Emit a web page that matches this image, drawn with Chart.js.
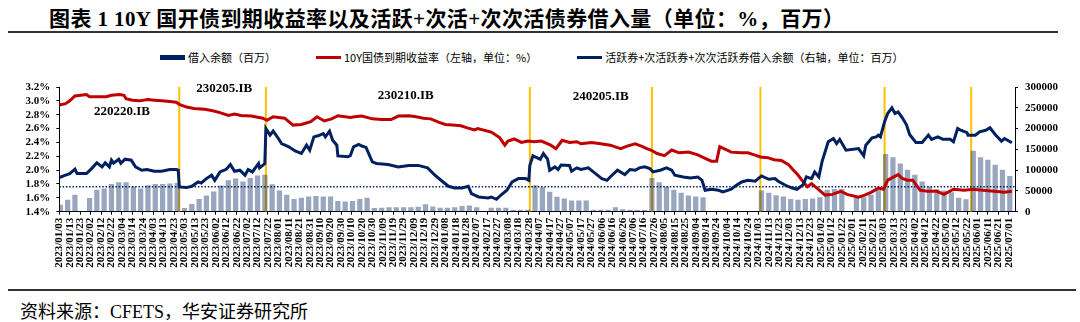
<!DOCTYPE html>
<html lang="zh-CN">
<head>
<meta charset="utf-8">
<title>10Y 国开债到期收益率以及活跃+次活+次次活债券借入量</title>
<script src="https://cdn.jsdelivr.net/npm/chart.js@4.4.1/dist/chart.umd.min.js"></script>
<style>
  html, body { margin: 0; padding: 0; background: #fff; }
  body { width: 1080px; height: 322px; position: relative; overflow: hidden; }
  .title { position: absolute; left: 49px; top: 2px; font: bold 21px "Liberation Serif", "Noto Sans CJK SC", serif; letter-spacing: 0.4px; color: #000; white-space: nowrap; }
  .rule { position: absolute; height: 2px; background: #333; }
  #legend { position: absolute; left: 160px; top: 49px; display: flex; align-items: center; font: 11px "Noto Sans CJK SC", sans-serif; color: #000; white-space: nowrap; }
  #legend .item { display: flex; align-items: center; margin-right: 40px; }
  #legend .swatch { width: 25px; margin-right: 3px; }
  #chart { position: absolute; left: 0; top: 70px; }
  .source { position: absolute; left: 20px; top: 297px; font: 18px "Liberation Serif", "Noto Sans CJK SC", serif; color: #000; white-space: nowrap; }
</style>
</head>
<body>
<div class="title">图表 1 10Y 国开债到期收益率以及活跃+次活+次次活债券借入量（单位：%，百万）</div>
<div class="rule" style="left:8px;top:31px;width:1050px;"></div>
<div id="legend"></div>
<canvas id="chart" width="1080" height="216"></canvas>
<div class="rule" style="left:8px;top:289px;width:1068px;"></div>
<div class="source">资料来源：CFETS，华安证券研究所</div>

<script>
// 10Y yield (%, left axis)
const yieldDates = [
  '2023-01-03','2023-01-09','2023-01-13','2023-01-18','2023-01-29','2023-02-01','2023-02-09','2023-02-17',
  '2023-02-22','2023-03-02','2023-03-06','2023-03-08','2023-03-14','2023-03-21','2023-03-29','2023-04-04',
  '2023-04-11','2023-04-19','2023-04-25','2023-04-28','2023-05-05','2023-05-12','2023-05-22','2023-05-29',
  '2023-06-06','2023-06-14','2023-06-20','2023-06-26','2023-07-06','2023-07-17','2023-07-21','2023-07-27',
  '2023-08-07','2023-08-15','2023-08-23','2023-09-01','2023-09-07','2023-09-14','2023-09-21','2023-09-27',
  '2023-10-09','2023-10-13','2023-10-20','2023-10-30','2023-11-08','2023-11-17','2023-11-24','2023-12-04',
  '2023-12-11','2023-12-18','2023-12-25','2024-01-02','2024-01-08','2024-01-15','2024-01-23','2024-01-29',
  '2024-02-05','2024-02-08','2024-02-21','2024-02-29','2024-03-05','2024-03-08','2024-03-14','2024-03-21',
  '2024-03-27','2024-04-02','2024-04-09','2024-04-18','2024-04-23','2024-04-29','2024-05-06','2024-05-13',
  '2024-05-17','2024-05-27','2024-06-05','2024-06-14','2024-06-24','2024-07-01','2024-07-08','2024-07-15',
  '2024-07-19','2024-07-23','2024-07-29','2024-08-05','2024-08-12','2024-08-19','2024-08-28','2024-09-06',
  '2024-09-13','2024-09-19','2024-09-24','2024-09-27','2024-10-08','2024-10-17','2024-10-24','2024-10-30',
  '2024-11-05','2024-11-12','2024-11-18','2024-11-25','2024-12-02','2024-12-06','2024-12-11','2024-12-16',
  '2024-12-20','2024-12-24','2024-12-30','2025-01-06','2025-01-13','2025-01-21','2025-01-27','2025-02-07',
  '2025-02-13','2025-02-19','2025-02-26','2025-03-03','2025-03-07','2025-03-17','2025-03-21','2025-03-26',
  '2025-03-31','2025-04-07','2025-04-14','2025-04-23','2025-04-30','2025-05-09','2025-05-19','2025-05-28',
  '2025-06-06','2025-06-17','2025-06-27','2025-07-04'
];
const yield10y = [
  2.94, 2.96, 3.00, 3.07, 3.09, 3.06, 3.06, 3.06,
  3.08, 3.09, 3.08, 3.03, 3.01, 3.00, 3.02, 3.01,
  3.00, 2.99, 2.98, 2.95, 2.91, 2.89, 2.88, 2.86,
  2.83, 2.79, 2.81, 2.79, 2.78, 2.75, 2.72, 2.77,
  2.75, 2.65, 2.66, 2.70, 2.77, 2.71, 2.74, 2.785,
  2.76, 2.77, 2.78, 2.74, 2.73, 2.73, 2.78, 2.785,
  2.77, 2.75, 2.74, 2.69, 2.66, 2.65, 2.64, 2.61,
  2.58, 2.60, 2.55, 2.47, 2.36, 2.42, 2.45, 2.40,
  2.42, 2.41, 2.42, 2.36, 2.31, 2.43, 2.40, 2.41,
  2.38, 2.40, 2.38, 2.36, 2.31, 2.35, 2.38, 2.34,
  2.31, 2.29, 2.24, 2.21, 2.29, 2.25, 2.26, 2.22,
  2.17, 2.13, 2.13, 2.34, 2.26, 2.25, 2.25, 2.22,
  2.19, 2.18, 2.15, 2.14, 2.08, 2.01, 1.93, 1.83,
  1.76, 1.805, 1.73, 1.64, 1.65, 1.695, 1.65, 1.61,
  1.64, 1.68, 1.74, 1.725, 1.855, 1.935, 1.88, 1.855,
  1.855, 1.71, 1.695, 1.695, 1.65, 1.725, 1.71, 1.725,
  1.71, 1.695, 1.68, 1.695
];

// 活跃券+次活跃券+次次活跃券借入余额 (百万, right axis)
const totalDates = [
  '2023-01-03','2023-01-09','2023-01-13','2023-01-18','2023-01-20','2023-01-29','2023-02-03','2023-02-08',
  '2023-02-13','2023-02-16','2023-02-20','2023-02-22','2023-02-24','2023-03-01','2023-03-03','2023-03-07',
  '2023-03-13','2023-03-17','2023-03-23','2023-03-28','2023-04-04','2023-04-11','2023-04-19','2023-04-25',
  '2023-04-27','2023-04-28','2023-05-05','2023-05-10','2023-05-16','2023-05-19','2023-05-24','2023-05-29',
  '2023-06-01','2023-06-06','2023-06-12','2023-06-16','2023-06-20','2023-06-25','2023-06-30','2023-07-03',
  '2023-07-07','2023-07-13','2023-07-14','2023-07-19','2023-07-20','2023-07-24','2023-07-27','2023-08-01',
  '2023-08-04','2023-08-11','2023-08-17','2023-08-23','2023-08-28','2023-08-31','2023-09-04','2023-09-08',
  '2023-09-13','2023-09-15','2023-09-19','2023-09-22','2023-09-26','2023-09-27','2023-10-07','2023-10-09',
  '2023-10-12','2023-10-17','2023-10-20','2023-10-24','2023-10-30','2023-11-03','2023-11-14','2023-11-24',
  '2023-12-04','2023-12-13','2023-12-22','2023-12-29','2024-01-05','2024-01-11','2024-01-17','2024-01-24',
  '2024-01-30','2024-02-02','2024-02-09','2024-02-18','2024-02-21','2024-02-26','2024-03-01','2024-03-07',
  '2024-03-12','2024-03-18','2024-03-25','2024-03-28','2024-03-29','2024-04-01','2024-04-03','2024-04-08',
  '2024-04-11','2024-04-15','2024-04-17','2024-04-22','2024-04-25','2024-04-28','2024-05-06','2024-05-08',
  '2024-05-13','2024-05-17','2024-05-24','2024-05-31','2024-06-06','2024-06-11','2024-06-14','2024-06-21',
  '2024-06-28','2024-07-03','2024-07-08','2024-07-12','2024-07-17','2024-07-22','2024-07-25','2024-08-01',
  '2024-08-07','2024-08-12','2024-08-15','2024-08-23','2024-08-30','2024-09-06','2024-09-10','2024-09-13',
  '2024-09-19','2024-09-26','2024-09-30','2024-10-08','2024-10-12','2024-10-18','2024-10-24','2024-10-31',
  '2024-11-06','2024-11-13','2024-11-19','2024-11-22','2024-11-29','2024-12-05','2024-12-10','2024-12-16',
  '2024-12-19','2024-12-24','2024-12-27','2024-12-31','2025-01-03','2025-01-09','2025-01-14','2025-01-17',
  '2025-01-20','2025-01-26','2025-02-07','2025-02-12','2025-02-14','2025-02-20','2025-02-24','2025-02-26',
  '2025-02-28','2025-03-04','2025-03-07','2025-03-11','2025-03-14','2025-03-17','2025-03-21','2025-03-25',
  '2025-03-28','2025-04-03','2025-04-09','2025-04-15','2025-04-18','2025-04-24','2025-04-29','2025-05-06',
  '2025-05-09','2025-05-13','2025-05-16','2025-05-22','2025-05-23','2025-05-30','2025-06-03','2025-06-09',
  '2025-06-13','2025-06-18','2025-06-24','2025-06-27','2025-07-04'
];
const borrowTotal = [
  82000, 87800, 91600, 102200, 91600, 91600, 103700, 117500,
  107800, 117500, 107800, 124000, 116700, 126300, 116700, 126300,
  124000, 107800, 99800, 101500, 97400, 97400, 101500, 101500,
  99800, 59600, 58000, 61200, 71600, 69000, 79600, 87800,
  75500, 95700, 102000, 113300, 97400, 99800, 87800, 101500,
  95700, 115800, 105500, 115800, 200200, 184200, 193900, 176100,
  164000, 156000, 146000, 140000, 160000, 148000, 180000, 182700,
  188000, 180000, 193800, 172000, 160000, 134300, 132000, 135000,
  156000, 161700, 158000, 154800, 119900, 116000, 113300, 107800,
  111400, 111400, 105500, 87800, 73300, 61200, 57200, 57200,
  61200, 43400, 35400, 33000, 35400, 29900, 39500, 51600,
  71600, 79600, 79600, 75500, 111900, 134300, 132000, 126300,
  140000, 126300, 99800, 107800, 101500, 112500, 111400, 97400,
  105500, 101500, 105500, 91600, 79600, 75500, 83600, 99800,
  89400, 101500, 99800, 105500, 107800, 103700, 95700, 99800,
  105500, 99800, 87800, 83600, 81300, 83600, 75500, 51600,
  54000, 51600, 47700, 54000, 62000, 71600, 75500, 73300,
  86100, 78000, 79600, 73300, 63600, 57200, 54000, 65200,
  83700, 79600, 95700, 83700, 119900, 168100, 176100, 164000,
  174000, 148000, 152000, 134300, 160000, 177700, 180000, 184200,
  180000, 216300, 236300, 250000, 236300, 240000, 226000, 209000,
  185700, 166400, 166400, 184200, 174000, 180000, 174000, 174000,
  168100, 200200, 196000, 190000, 184200, 184200, 192000, 196000,
  201800, 185700, 169800, 176100, 165700
];

// 借入余额 (百万, right axis), one value per trading week (week mid-point)
const barWeeks = [
  '2023-01-04','2023-01-11','2023-01-18','2023-01-25','2023-02-01','2023-02-08','2023-02-15','2023-02-22',
  '2023-03-01','2023-03-08','2023-03-15','2023-03-22','2023-03-29','2023-04-05','2023-04-12','2023-04-19',
  '2023-04-26','2023-05-03','2023-05-10','2023-05-17','2023-05-24','2023-05-31','2023-06-07','2023-06-14',
  '2023-06-21','2023-06-28','2023-07-05','2023-07-12','2023-07-19','2023-07-26','2023-08-02','2023-08-09',
  '2023-08-16','2023-08-23','2023-08-30','2023-09-06','2023-09-13','2023-09-20','2023-09-27','2023-10-04',
  '2023-10-11','2023-10-18','2023-10-25','2023-11-01','2023-11-08','2023-11-15','2023-11-22','2023-11-29',
  '2023-12-06','2023-12-13','2023-12-20','2023-12-27','2024-01-03','2024-01-10','2024-01-17','2024-01-24',
  '2024-01-31','2024-02-07','2024-02-14','2024-02-21','2024-02-28','2024-03-06','2024-03-13','2024-03-20',
  '2024-03-27','2024-04-03','2024-04-10','2024-04-17','2024-04-24','2024-05-01','2024-05-08','2024-05-15',
  '2024-05-22','2024-05-29','2024-06-05','2024-06-12','2024-06-19','2024-06-26','2024-07-03','2024-07-10',
  '2024-07-17','2024-07-24','2024-07-31','2024-08-07','2024-08-14','2024-08-21','2024-08-28','2024-09-04',
  '2024-09-11','2024-09-18','2024-09-25','2024-10-02','2024-10-09','2024-10-16','2024-10-23','2024-10-30',
  '2024-11-06','2024-11-13','2024-11-20','2024-11-27','2024-12-04','2024-12-11','2024-12-18','2024-12-25',
  '2025-01-01','2025-01-08','2025-01-15','2025-01-22','2025-01-29','2025-02-05','2025-02-12','2025-02-19',
  '2025-02-26','2025-03-05','2025-03-12','2025-03-19','2025-03-26','2025-04-02','2025-04-09','2025-04-16',
  '2025-04-23','2025-04-30','2025-05-07','2025-05-14','2025-05-21','2025-05-28','2025-06-04','2025-06-11',
  '2025-06-18','2025-06-25','2025-07-02'
];
const borrowBalance = [
  16000, 28000, 40000, null, 32000, 52000, 55000, 66000,
  70000, 70000, 60000, 55000, 63000, 66000, 66000, 67000,
  68000, 8000, 18000, 30000, 38000, 48000, 62000, 75000,
  79000, 72000, 80000, 86000, 88000, 65000, 50000, 40000,
  30000, 33000, 36000, 37000, 36000, 36000, 25000, 24000,
  25000, 30000, 33000, 8000, 9000, 10000, 10000, 10000,
  10000, 11000, 17000, 12000, 9000, 9000, 10000, 13000,
  14000, 10000, null, 9000, 9000, 9000, 4000, 4000,
  4000, 63000, 58000, 47000, 35000, 31000, 26000, 26000,
  26000, 4000, 4000, 4000, 10000, 5000, 4000, 3000,
  3000, 80000, 70000, 60000, 52000, 45000, 38000, 36000,
  34000, null, null, null, null, null, null, null,
  50000, 45000, 39000, 36000, 30000, 28000, 30000, 31000,
  34000, 52000, 54000, 54000, null, 33000, 34000, 40000,
  52000, 138000, 130000, 115000, 100000, 88000, 72000, 60000,
  53000, 50000, 46000, 33000, 29000, 146000, 130000, 124000,
  112000, 100000, 85000
];

// reference level of the borrowing balance (百万)
const borrowRefLevel = 60000;

// active-bond switch dates and the bond codes
const rollDates = ['2023-04-28','2023-07-20','2024-03-29','2024-07-24','2024-11-05','2025-03-04','2025-05-26'];
const bondNames = ['220220.IB','230205.IB','230210.IB','240205.IB'];

// axis tick labels
const axisStart = '2023-01-03';
const axisEnd = '2025-07-07';
const yieldTicks = { min: 1.4, max: 3.2, step: 0.2 };
const volumeTicks = { min: 0, max: 300000, step: 50000 };

const NAVY = '#002060';
const RED = '#C00000';
const GOLD = '#FFC000';

const base = Date.parse(axisStart + 'T00:00:00Z');
const toDay = s => Math.round((Date.parse(s + 'T00:00:00Z') - base) / 864e5);
const fmtDay = v => {
  const d = new Date(base + v * 864e5);
  const p = n => String(n).padStart(2, '0');
  return d.getUTCFullYear() + '/' + p(d.getUTCMonth() + 1) + '/' + p(d.getUTCDate());
};
const series = (dates, vals) => dates.map((d, i) => ({ x: toDay(d), y: vals[i] }));
const xMax = toDay(axisEnd);

const rollLines = rollDates.flatMap(d => {
  const x = toDay(d);
  return [{ x, y: yieldTicks.min }, { x, y: yieldTicks.max }, { x, y: null }];
});

// bond code captions placed in data space (day, yield %)
const bondLabelSpots = [
  { date: '2023-03-04', level: 2.845 },
  { date: '2023-06-10', level: 3.175 },
  { date: '2023-12-01', level: 3.08 },
  { date: '2024-06-05', level: 3.06 }
];

const bondLabels = {
  id: 'bondLabels',
  afterDatasetsDraw(chart) {
    const { ctx, scales } = chart;
    ctx.save();
    ctx.font = 'bold 13px "Liberation Serif", serif';
    ctx.fillStyle = '#000';
    ctx.textAlign = 'center';
    ctx.textBaseline = 'middle';
    bondNames.forEach((name, i) => {
      const spot = bondLabelSpots[i];
      ctx.fillText(name, scales.x.getPixelForValue(toDay(spot.date)), scales.y.getPixelForValue(spot.level));
    });
    ctx.restore();
  }
};

Chart.defaults.font.family = '"Liberation Serif", "Times New Roman", serif';
Chart.defaults.color = '#000';

const tickFont = { size: 11, weight: 'bold' };
const axisGrid = { display: true, drawOnChartArea: false, drawTicks: true, tickLength: 3, color: '#000', lineWidth: 1 };

// evenly spaced tick values for a value axis
const stepTicks = (lo, hi, step) => {
  const t = [];
  const n = Math.round((hi - lo) / step);
  for (let i = 0; i <= n; i++) t.push({ value: +(lo + i * step).toFixed(6) });
  return t;
};

const chart = new Chart(document.getElementById('chart'), {
  type: 'bar',
  data: {
    datasets: [
      {
        type: 'line', label: '活跃券+次活跃券+次次活跃券借入余额（右轴，单位：百万）', legend: 'line',
        data: series(totalDates, borrowTotal), yAxisID: 'y1',
        borderColor: NAVY, backgroundColor: NAVY, borderWidth: 3, pointRadius: 0, tension: 0, order: 0
      },
      {
        type: 'line', label: '10Y国债到期收益率（左轴，单位：%）', legend: 'line',
        data: series(yieldDates, yield10y), yAxisID: 'y',
        borderColor: RED, backgroundColor: RED, borderWidth: 3, pointRadius: 0, tension: 0, order: 1
      },
      {
        type: 'line', label: '借入余额参考线',
        data: [{ x: 0, y: borrowRefLevel }, { x: xMax, y: borrowRefLevel }], yAxisID: 'y1',
        borderColor: NAVY, borderWidth: 1.5, borderDash: [1.5, 1.8], pointRadius: 0, order: 2
      },
      {
        type: 'bar', label: '借入余额（百万）', legend: 'bar',
        data: series(barWeeks, borrowBalance), yAxisID: 'y1',
        backgroundColor: 'rgba(0,32,96,0.40)', legendColor: NAVY, barThickness: 4.6, order: 3
      },
      {
        type: 'line', label: '换券日',
        data: rollLines, yAxisID: 'y',
        borderColor: GOLD, borderWidth: 2, pointRadius: 0, spanGaps: false, order: 4
      }
    ]
  },
  options: {
    responsive: false,
    devicePixelRatio: 1,
    animation: false,
    events: [],
    layout: { padding: { top: 17, left: 0, right: 0, bottom: 0 } },
    plugins: { legend: { display: false }, tooltip: { enabled: false } },
    scales: {
      x: {
        type: 'linear', min: 0, max: xMax, offset: false,
        grid: Object.assign({ offset: false }, axisGrid),
        border: { display: true, color: '#000', width: 1 },
        afterBuildTicks(scale) {
          const t = [];
          for (let v = 0; v <= xMax; v += 10) t.push({ value: v });
          scale.ticks = t;
        },
        afterFit(scale) { scale.height = 74.3; },
        ticks: {
          autoSkip: false, minRotation: 90, maxRotation: 90, padding: 3,
          font: tickFont, color: '#000',
          callback: v => fmtDay(v)
        }
      },
      y: {
        position: 'left', min: yieldTicks.min, max: yieldTicks.max,
        grid: axisGrid,
        border: { display: true, color: '#000', width: 1 },
        afterBuildTicks(scale) { scale.ticks = stepTicks(yieldTicks.min, yieldTicks.max, yieldTicks.step); },
        afterFit(scale) { scale.width = 59.3; },
        ticks: {
          autoSkip: false, padding: 6, font: tickFont, color: '#000',
          callback: v => v.toFixed(1) + '%'
        }
      },
      y1: {
        position: 'right', min: volumeTicks.min, max: volumeTicks.max,
        grid: axisGrid,
        border: { display: true, color: '#000', width: 1 },
        afterBuildTicks(scale) { scale.ticks = stepTicks(volumeTicks.min, volumeTicks.max, volumeTicks.step); },
        afterFit(scale) { scale.width = 65; },
        ticks: {
          autoSkip: false, padding: 7, font: tickFont, color: '#000',
          callback: v => String(v)
        }
      }
    }
  },
  plugins: [bondLabels]
});

// legend strip built from the datasets
const legendBox = document.getElementById('legend');
[3, 1, 0].forEach(i => {
  const ds = chart.data.datasets[i];
  const item = document.createElement('div');
  item.className = 'item';
  const sw = document.createElement('div');
  sw.className = 'swatch';
  sw.style.height = ds.legend === 'bar' ? '5px' : '3px';
  sw.style.background = ds.legend === 'bar' ? ds.legendColor : ds.borderColor;
  const tx = document.createElement('span');
  tx.textContent = ds.label;
  item.appendChild(sw);
  item.appendChild(tx);
  legendBox.appendChild(item);
});
</script>
</body>
</html>
